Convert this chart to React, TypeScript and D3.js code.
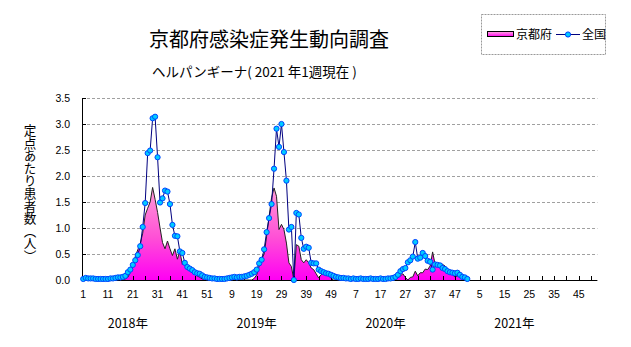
import React from "react";
import * as d3 from "d3";

const years = ["2018年", "2019年", "2020年", "2021年"];
const weeksPerYear = 52;
const xTickLabels = ["1","11","21","31","41","51","9","19","29","39","49","7","17","27","37","47","5","15","25","35","45"];
const yTicks = [0, 0.5, 1, 1.5, 2, 2.5, 3, 3.5];
const yTitle = "定点あたり患者数（人）";

const kyoto2018 = [
  0,0,0,0,0,0,0,0,0,0,0,0,0,0,0,0,0,
  0.02,0.05,0.15,0.26,0.45,0.58,0.7,0.9,1.25,1.38,1.5,1.78,1.55,1.3,1.0,0.72,0.6,0.75,0.6,0.47,0.6,0.4,0.55,0.3,0.35,0.28,0.22,0.18,0.12,0.08,0.05,0.02,
  0,0,0,
];
const kyoto2019 = [
  0,0,0,0,0,0,0,0,0,0,0,0,0,0,0,0,0,
  0.03,0.1,0.27,0.4,0.5,0.84,1.22,1.58,1.77,1.61,0.97,1.07,0.97,0.71,0.33,0.26,0,0.68,0.65,0.39,0.33,0.39,0.33,0.23,0.2,0.12,0.04,0.1,0.14,0.17,0.1,0.03,
  0,0,0,
];
const kyoto2020 = [
  0,0,0,0,0,0,0,0,0,0,0,0,0,0,0,0,0,0,0,0,0,0,0,
  0.04,0.08,0.12,0.05,0,0.05,0.06,0.17,0.08,0.14,0.14,0.21,0.2,0.27,0.54,0.3,0.31,0.32,0.3,0.27,0.2,0.15,0.1,0.06,0.08,0.05,0.02,
  0,0,
];
const national2018 = [
  0.02,0.04,0.03,0.03,0.03,0.02,0.02,0.02,0.02,0.02,0.02,0.03,0.03,0.04,
  0.05,0.05,0.06,0.08,
  0.15,0.2,0.29,0.38,0.48,0.65,1.02,1.48,2.44,2.49,3.11,3.14,
  2.36,1.49,1.57,1.72,1.7,1.46,1.06,0.85,0.84,0.55,0.52,0.33,
  0.25,0.22,0.19,0.15,0.13,0.12,0.09,0.06,0.05,0.04,
];
const national2019 = [
  0.03,0.03,0.02,0.02,0.02,0.02,0.03,0.04,0.05,0.06,0.05,0.06,0.06,0.07,0.08,0.1,0.12,0.15,
  0.2,0.32,0.39,0.59,0.92,1.19,1.46,2.14,2.91,2.56,3.0,2.46,1.91,0.97,1.02,0.0,
  1.29,1.26,0.81,0.6,0.64,0.62,0.33,0.32,0.32,0.2,0.17,0.15,0.13,0.12,0.1,0.08,0.06,0.05,
];
const national2020 = [
  0.04,0.04,0.03,0.03,0.02,0.03,0.02,0.02,0.03,0.02,0.02,0.02,0.03,0.02,0.02,0.02,0.03,0.02,0.02,0.03,0.03,0.04,
  0.06,0.1,0.17,0.21,0.23,0.34,0.38,0.45,0.73,
  0.41,0.43,0.52,0.46,0.37,0.35,0.2,0.3,0.29,0.28,0.23,0.21,0.17,0.15,0.14,0.13,0.14,0.1,0.06,0.05,0.02,
];

const kyoto = [...kyoto2018, ...kyoto2019, ...kyoto2020];
const national = [...national2018, ...national2019, ...national2020];

const JP = "'Noto Sans CJK JP', 'Noto Sans', sans-serif";
const NUM = "'Liberation Sans', Arial, sans-serif";

export default function App() {
  const W = 631, H = 347;
  const total = years.length * weeksPerYear;
  const left = 82, right = 597.4, bottom = 280, top = 98;
  const x = d3.scaleBand<number>().domain(d3.range(total)).range([left, right]).padding(0);
  const bw = x.bandwidth();
  const cx = (i: number) => (x(i) as number) + bw / 2;
  const y = d3.scaleLinear().domain([0, 3.5]).range([bottom, top]);

  const area = d3.area<number>().x((_, i) => cx(i)).y0(y(0)).y1((d) => y(d));
  const line = d3.line<number>().x((_, i) => cx(i)).y((d) => y(d));

  const tickIdx = d3.range(0, total, 5);

  return (
    <svg width={W} height={H} style={{ position: "absolute", left: 0, top: 0, background: "#fff" }}>
      <defs>
        <linearGradient id="kg" gradientUnits="userSpaceOnUse" x1="0" y1={y(1.8)} x2="0" y2={y(0)}>
          <stop offset="0" stopColor="#ff9ed8" />
          <stop offset="0.55" stopColor="#ff4fd6" />
          <stop offset="1" stopColor="#ff00f4" />
        </linearGradient>
        <linearGradient id="lg" x1="0" y1="0" x2="0" y2="1">
          <stop offset="0" stopColor="#ffb0e0" />
          <stop offset="1" stopColor="#ff00f0" />
        </linearGradient>
      </defs>
      <rect width={W} height={H} fill="#fff" />

      {/* titles */}
      <text x={269} y={47} textAnchor="middle" fontFamily={JP} fontSize={20} fill="#000">京都府感染症発生動向調査</text>
      <text x={152} y={77} fontFamily={JP} fontSize={13.5} fill="#000">ヘルパンギーナ( 2021 年1週現在 )</text>

      {/* legend */}
      <rect x={481.5} y={14.5} width={124} height={40} fill="#fff" stroke="#999" strokeDasharray="2 1" />
      <rect x={487.5} y={31.5} width={26} height={5} fill="url(#lg)" stroke="#000" />
      <text x={516} y={39} fontFamily={JP} fontSize={12} fill="#000">京都府</text>
      <line x1={556} x2={580} y1={34.5} y2={34.5} stroke="#000080" strokeWidth={1} />
      <circle cx={568} cy={34.5} r={2.6} fill="#00ccff" stroke="#0040ff" strokeWidth={1} />
      <text x={582} y={39} fontFamily={JP} fontSize={12} fill="#000">全国</text>

      {/* y axis title (vertical writing) */}
      <text
        x={30}
        y={124}
        fontFamily={JP}
        fontSize={12.6}
        fill="#000"
        style={{ writingMode: "vertical-rl" } as React.CSSProperties}
      >
        {yTitle}
      </text>

      {/* gridlines */}
      {yTicks.filter((t) => t > 0).map((t) => (
        <line key={t} x1={left} x2={right} y1={Math.round(y(t)) + 0.5} y2={Math.round(y(t)) + 0.5} stroke="#a0a0a0" strokeDasharray="3 2" />
      ))}

      {/* y tick labels */}
      {yTicks.map((t) => (
        <text key={t} x={70} y={y(t) + 4} textAnchor="end" fontFamily={NUM} fontSize={10.5} fill="#000">{t.toFixed(1)}</text>
      ))}

      {/* series: Kyoto area */}
      <path d={area(kyoto) || ""} fill="url(#kg)" stroke="none" />
      <path d={line(kyoto) || ""} fill="none" stroke="#222" strokeWidth={1} />

      {/* axes */}
      <line x1={left + 0.5} x2={left + 0.5} y1={top} y2={bottom} stroke="#000" />
      {yTicks.map((t) => (
        <line key={t} x1={left} x2={left + 4} y1={Math.round(y(t)) + 0.5} y2={Math.round(y(t)) + 0.5} stroke="#000" />
      ))}
      <line x1={left} x2={right} y1={bottom + 0.5} y2={bottom + 0.5} stroke="#000" />
      {tickIdx.map((i) => (
        <line key={i} x1={Math.round(cx(i)) + 0.5} x2={Math.round(cx(i)) + 0.5} y1={bottom - 4} y2={bottom} stroke="#000" />
      ))}
      {xTickLabels.map((lab, k) => (
        <text key={k} x={cx(k * 10)} y={298} textAnchor="middle" fontFamily={NUM} fontSize={10.5} fill="#000">{lab}</text>
      ))}
      {years.map((yr, k) => (
        <text key={yr} x={cx(k * weeksPerYear + 18)} y={328} textAnchor="middle" fontFamily={JP} fontSize={12.5} fill="#000">{yr}</text>
      ))}

      {/* national line */}
      <path d={line(national) || ""} fill="none" stroke="#000080" strokeWidth={1} />
      {national.map((v, i) => (
        <circle key={i} cx={cx(i)} cy={y(v)} r={2.6} fill="#00ccff" stroke="#0044ff" strokeWidth={1} />
      ))}
    </svg>
  );
}
